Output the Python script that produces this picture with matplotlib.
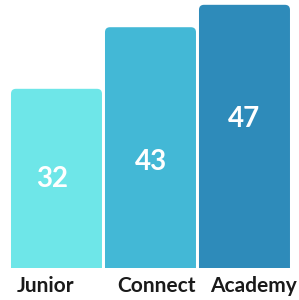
import matplotlib.pyplot as plt
from matplotlib.patches import FancyBboxPatch
from matplotlib.transforms import blended_transform_factory

categories = ['Junior', 'Connect', 'Academy']
values = [32, 43, 47]
colors = ['#6EE6E8', '#43B8D6', '#2E8BBA']
# where the number sits inside each bar, and small nudges of the names
value_label_y = [15.9, 18.9, 26.6]
name_shift = [-0.12, 0.06, 0.10]

plt.rcParams['font.family'] = ['Lato', 'DejaVu Sans']

fig = plt.figure(figsize=(2.99, 3.0), dpi=100)
ax = fig.add_axes([0, 0.1067, 1, 0.8933])
ax.set_xlim(-0.601, 2.58)
ax.set_ylim(0, 47.86)
ax.axis('off')

width = 0.968
px_x = 94.0   # pixels per x unit
px_y = 5.6    # pixels per y unit
rad = 5 / px_x

bars = ax.bar(range(len(values)), values, width=width, color=colors)
for b, c in zip(bars, colors):
    b.set_visible(False)
    x, w, h = b.get_x(), b.get_width(), b.get_height()
    patch = FancyBboxPatch((x + rad, -5), w - 2 * rad, h + 5 - rad * px_x / px_y,
                           boxstyle=f'round,pad={rad}',
                           mutation_aspect=px_x / px_y,
                           facecolor=c, edgecolor='none')
    ax.add_patch(patch)

for i, v in enumerate(values):
    ax.text(i - 0.05 if i == 0 else i, value_label_y[i], str(v), color='white',
            fontsize=20, fontweight='bold', ha='center', va='center')

trans = blended_transform_factory(ax.transData, fig.transFigure)
for i, name in enumerate(categories):
    ax.text(i + name_shift[i], 0.027, name, transform=trans, fontsize=15,
            fontweight='bold', ha='center', va='baseline', color='#1a1a1a')

fig.savefig('out.png', dpi=100)
